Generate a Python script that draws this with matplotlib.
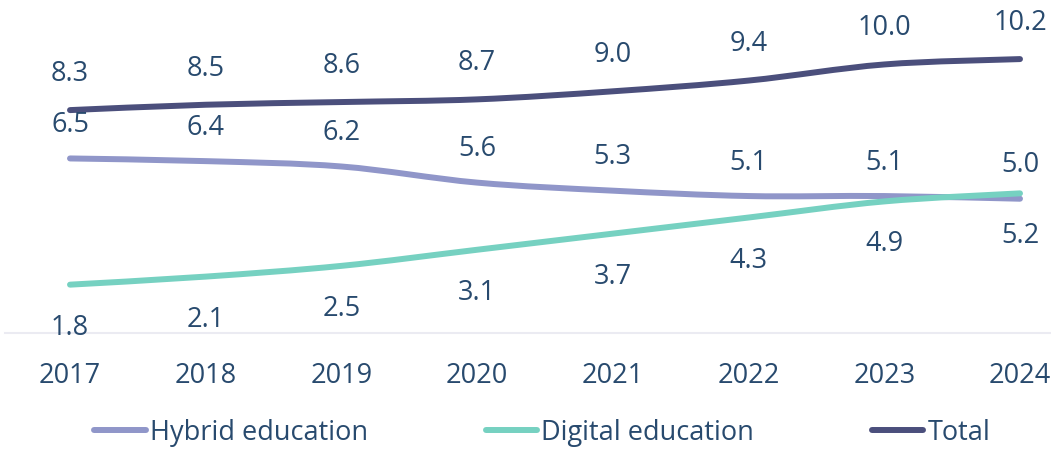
import matplotlib.pyplot as plt
import numpy as np
from matplotlib.path import Path
from matplotlib.patches import PathPatch
from matplotlib.lines import Line2D

plt.rcParams['font.family'] = ['Open Sans', 'DejaVu Sans']

years = ['2017', '2018', '2019', '2020', '2021', '2022', '2023', '2024']
hybrid = [6.5, 6.4, 6.2, 5.6, 5.3, 5.1, 5.1, 5.0]
digital = [1.8, 2.1, 2.5, 3.1, 3.7, 4.3, 4.9, 5.2]
total = [8.3, 8.5, 8.6, 8.7, 9.0, 9.4, 10.0, 10.2]

TEXT = '#284a6e'
C_HYB = '#9096c9'
C_DIG = '#76d1c1'
C_TOT = '#4b4f7c'
FS = 19.5


def smooth_path(xs, ys, k=1 / 6):
    # cubic bezier segments through the points (catmull-rom style handles)
    xs = np.asarray(xs, float)
    ys = np.asarray(ys, float)
    n = len(xs)
    verts = [(xs[0], ys[0])]
    codes = [Path.MOVETO]
    for i in range(n - 1):
        i0 = max(i - 1, 0)
        i3 = min(i + 2, n - 1)
        c1 = (xs[i] + (xs[i + 1] - xs[i0]) * k, ys[i] + (ys[i + 1] - ys[i0]) * k)
        c2 = (xs[i + 1] - (xs[i3] - xs[i]) * k, ys[i + 1] - (ys[i3] - ys[i]) * k)
        verts += [c1, c2, (xs[i + 1], ys[i + 1])]
        codes += [Path.CURVE4] * 3
    return Path(verts, codes)


fig = plt.figure(figsize=(10.51, 4.49), dpi=100)
ax = fig.add_axes([5 / 1051, 116 / 449, 1046 / 1051, 333 / 449])
x = np.arange(len(years))

series = [
    (hybrid, C_HYB, 'Hybrid education', 24),
    (digital, C_DIG, 'Digital education', -31),
    (total, C_TOT, 'Total', 26),
]
handles = []
for vals, col, name, off in series:
    ax.add_patch(PathPatch(smooth_path(x, vals), fill=False, edgecolor=col,
                           lw=4.3, capstyle='round', joinstyle='round'))
    handles.append(Line2D([], [], color=col, lw=4.3, solid_capstyle='round', label=name))
    for xi, v in zip(x, vals):
        ax.annotate(f'{v:.1f}', (xi, v), xytext=(0, off), textcoords='offset points',
                    ha='center', va='center', fontsize=FS, color=TEXT)

ax.set_xlim(-65 / 135.7, 7 + 31 / 135.7)
ax.set_ylim(0, 12.4)
ax.set_xticks(x)
ax.set_xticklabels(years, fontsize=FS, color=TEXT)
ax.tick_params(axis='x', length=0, pad=21)
ax.set_yticks([])
for s in ['top', 'right', 'left']:
    ax.spines[s].set_visible(False)
ax.spines['bottom'].set_color('#ebebf2')
ax.spines['bottom'].set_linewidth(1.5)

fig.legend(handles=handles, loc='center', bbox_to_anchor=(0.516, 0.036), ncol=3,
           frameon=False, fontsize=FS, labelcolor=TEXT, handlelength=1.9,
           handletextpad=0.15, columnspacing=4.35)

fig.savefig('out.png', dpi=100)
